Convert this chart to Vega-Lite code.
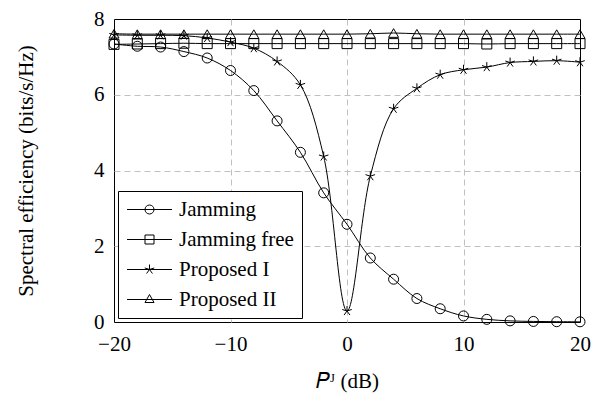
{
  "$schema": "https://vega.github.io/schema/vega-lite/v6.json",
  "width": 466,
  "height": 303,
  "autosize": "none",
  "padding": {"left": 114, "top": 19, "right": 12, "bottom": 72},
  "background": "white",
  "config": {
    "font": "Liberation Serif",
    "view": {"stroke": "black", "strokeWidth": 1},
    "axis": {
      "labelFont": "Liberation Serif",
      "titleFont": "Liberation Serif",
      "labelFontSize": 21,
      "titleFontSize": 21,
      "titleFontWeight": "normal",
      "labelColor": "black",
      "titleColor": "black",
      "labelFlush": false,
      "ticks": false,
      "domain": false,
      "grid": true,
      "gridColor": "#c0c0c0",
      "gridDash": [6, 4],
      "gridWidth": 1
    }
  },
  "data": {
    "values": [
      {"x": -20, "y": 7.34, "series": "Jamming"},
      {"x": -18, "y": 7.28, "series": "Jamming"},
      {"x": -16, "y": 7.26, "series": "Jamming"},
      {"x": -14, "y": 7.14, "series": "Jamming"},
      {"x": -12, "y": 6.97, "series": "Jamming"},
      {"x": -10, "y": 6.64, "series": "Jamming"},
      {"x": -8, "y": 6.11, "series": "Jamming"},
      {"x": -6, "y": 5.31, "series": "Jamming"},
      {"x": -4, "y": 4.48, "series": "Jamming"},
      {"x": -2, "y": 3.41, "series": "Jamming"},
      {"x": 0, "y": 2.58, "series": "Jamming"},
      {"x": 2, "y": 1.69, "series": "Jamming"},
      {"x": 4, "y": 1.13, "series": "Jamming"},
      {"x": 6, "y": 0.62, "series": "Jamming"},
      {"x": 8, "y": 0.35, "series": "Jamming"},
      {"x": 10, "y": 0.16, "series": "Jamming"},
      {"x": 12, "y": 0.07, "series": "Jamming"},
      {"x": 14, "y": 0.03, "series": "Jamming"},
      {"x": 16, "y": 0.015, "series": "Jamming"},
      {"x": 18, "y": 0.008, "series": "Jamming"},
      {"x": 20, "y": 0.005, "series": "Jamming"},
      {"x": -20, "y": 7.33, "series": "Jamming free"},
      {"x": -18, "y": 7.34, "series": "Jamming free"},
      {"x": -16, "y": 7.35, "series": "Jamming free"},
      {"x": -14, "y": 7.36, "series": "Jamming free"},
      {"x": -12, "y": 7.35, "series": "Jamming free"},
      {"x": -10, "y": 7.35, "series": "Jamming free"},
      {"x": -8, "y": 7.35, "series": "Jamming free"},
      {"x": -6, "y": 7.35, "series": "Jamming free"},
      {"x": -4, "y": 7.35, "series": "Jamming free"},
      {"x": -2, "y": 7.35, "series": "Jamming free"},
      {"x": 0, "y": 7.35, "series": "Jamming free"},
      {"x": 2, "y": 7.35, "series": "Jamming free"},
      {"x": 4, "y": 7.35, "series": "Jamming free"},
      {"x": 6, "y": 7.35, "series": "Jamming free"},
      {"x": 8, "y": 7.35, "series": "Jamming free"},
      {"x": 10, "y": 7.35, "series": "Jamming free"},
      {"x": 12, "y": 7.34, "series": "Jamming free"},
      {"x": 14, "y": 7.35, "series": "Jamming free"},
      {"x": 16, "y": 7.35, "series": "Jamming free"},
      {"x": 18, "y": 7.35, "series": "Jamming free"},
      {"x": 20, "y": 7.35, "series": "Jamming free"},
      {"x": -20, "y": 7.58, "series": "Proposed I"},
      {"x": -18, "y": 7.57, "series": "Proposed I"},
      {"x": -16, "y": 7.57, "series": "Proposed I"},
      {"x": -14, "y": 7.56, "series": "Proposed I"},
      {"x": -12, "y": 7.5, "series": "Proposed I"},
      {"x": -10, "y": 7.39, "series": "Proposed I"},
      {"x": -8, "y": 7.23, "series": "Proposed I"},
      {"x": -6, "y": 6.88, "series": "Proposed I"},
      {"x": -4, "y": 6.26, "series": "Proposed I"},
      {"x": -2, "y": 4.37, "series": "Proposed I"},
      {"x": 0, "y": 0.29, "series": "Proposed I"},
      {"x": 2, "y": 3.85, "series": "Proposed I"},
      {"x": 4, "y": 5.63, "series": "Proposed I"},
      {"x": 6, "y": 6.17, "series": "Proposed I"},
      {"x": 8, "y": 6.53, "series": "Proposed I"},
      {"x": 10, "y": 6.66, "series": "Proposed I"},
      {"x": 12, "y": 6.73, "series": "Proposed I"},
      {"x": 14, "y": 6.85, "series": "Proposed I"},
      {"x": 16, "y": 6.88, "series": "Proposed I"},
      {"x": 18, "y": 6.9, "series": "Proposed I"},
      {"x": 20, "y": 6.86, "series": "Proposed I"},
      {"x": -20, "y": 7.61, "series": "Proposed II"},
      {"x": -18, "y": 7.6, "series": "Proposed II"},
      {"x": -16, "y": 7.6, "series": "Proposed II"},
      {"x": -14, "y": 7.6, "series": "Proposed II"},
      {"x": -12, "y": 7.6, "series": "Proposed II"},
      {"x": -10, "y": 7.6, "series": "Proposed II"},
      {"x": -8, "y": 7.6, "series": "Proposed II"},
      {"x": -6, "y": 7.6, "series": "Proposed II"},
      {"x": -4, "y": 7.6, "series": "Proposed II"},
      {"x": -2, "y": 7.6, "series": "Proposed II"},
      {"x": 0, "y": 7.6, "series": "Proposed II"},
      {"x": 2, "y": 7.61, "series": "Proposed II"},
      {"x": 4, "y": 7.63, "series": "Proposed II"},
      {"x": 6, "y": 7.61, "series": "Proposed II"},
      {"x": 8, "y": 7.6, "series": "Proposed II"},
      {"x": 10, "y": 7.6, "series": "Proposed II"},
      {"x": 12, "y": 7.6, "series": "Proposed II"},
      {"x": 14, "y": 7.6, "series": "Proposed II"},
      {"x": 16, "y": 7.6, "series": "Proposed II"},
      {"x": 18, "y": 7.6, "series": "Proposed II"},
      {"x": 20, "y": 7.6, "series": "Proposed II"}
    ]
  },
  "encoding": {
    "x": {
      "field": "x",
      "type": "quantitative",
      "scale": {"domain": [-20, 20], "nice": false, "zero": false},
      "axis": {
        "values": [-20, -10, 0, 10, 20],
        "title": "𝑃ᴶ (dB)",
        "labelFont": "Liberation Serif",
        "labelPadding": 11,
        "titlePadding": 16,
        "gridOpacity": {"condition": {"test": "datum.value == -20 || datum.value == 20", "value": 0}, "value": 1}
      }
    },
    "y": {
      "field": "y",
      "type": "quantitative",
      "scale": {"domain": [0, 8], "nice": false},
      "axis": {
        "values": [0, 2, 4, 6, 8],
        "title": "Spectral efficiency (bits/s/Hz)",
        "labelFont": "Liberation Serif",
        "labelPadding": 10,
        "titlePadding": 57,
        "gridOpacity": {"condition": {"test": "datum.value == 0 || datum.value == 8", "value": 0}, "value": 1}
      }
    }
  },
  "layer": [
    {
      "mark": {"type": "line", "color": "black", "strokeWidth": 1, "interpolate": "catmull-rom", "clip": false},
      "encoding": {"detail": {"field": "series"}}
    },
    {
      "mark": {"type": "point", "filled": false, "color": "black", "strokeWidth": 1, "size": 100, "opacity": 1},
      "encoding": {
        "shape": {
          "field": "series",
          "type": "nominal",
          "scale": {
            "domain": ["Jamming", "Jamming free", "Proposed I", "Proposed II"],
            "range": ["circle", "square", "M0,0L0,-1M0,0L0.951,-0.309M0,0L0.588,0.809M0,0L-0.588,0.809M0,0L-0.951,-0.309", "triangle-up"]
          },
          "legend": null
        }
      }
    },
    {
      "transform": [{"filter": "datum.x > 1000"}],
      "mark": {"type": "point", "filled": false, "color": "black", "strokeWidth": 1, "size": 100, "opacity": 1},
      "encoding": {
        "shape": {
          "field": "series",
          "type": "nominal",
          "scale": {
            "domain": ["Jamming", "Jamming free", "Proposed I", "Proposed II"],
            "range": [
              "M-4.5,0H4.5M0.9,0A0.9,0.9 0 1 1 -0.9,0A0.9,0.9 0 1 1 0.9,0",
              "M-4.5,0H4.5M-0.9,-0.9H0.9V0.9H-0.9Z",
              "M-4.5,0H4.5M0,0L0,-1M0,0L0.951,-0.309M0,0L0.588,0.809M0,0L-0.588,0.809M0,0L-0.951,-0.309",
              "M-4.5,0H4.5M0,-1L0.9,0.6H-0.9Z"
            ]
          },
          "legend": {
            "title": null,
            "orient": "bottom-left",
            "offset": 4,
            "padding": 8,
            "symbolSize": 100,
            "symbolStrokeWidth": 1,
            "symbolStrokeColor": "black",
            "symbolFillColor": "transparent",
            "symbolOffset": 13,
            "labelOffset": 19,
            "labelFontSize": 21,
            "labelFont": "Liberation Serif",
            "labelColor": "black",
            "rowPadding": 8,
            "strokeColor": "black",
            "fillColor": "white",
            "cornerRadius": 0
          }
        }
      }
    }
  ],
  "resolve": {"scale": {"shape": "independent"}}
}
